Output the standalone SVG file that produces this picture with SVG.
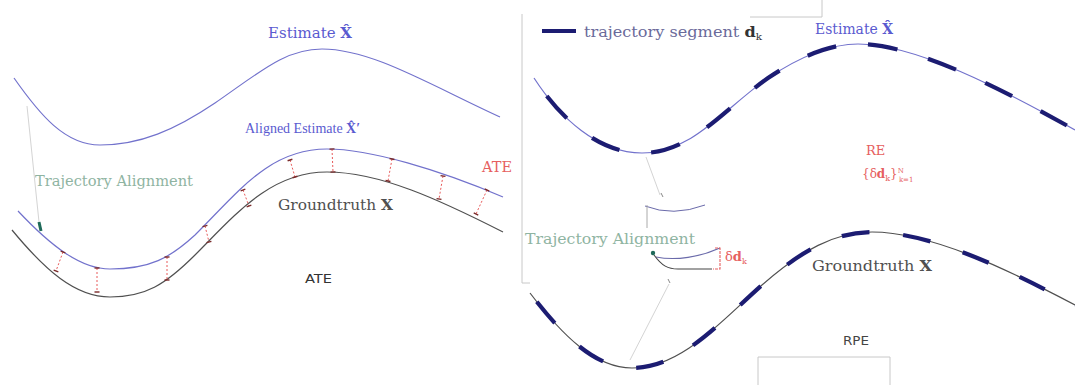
<svg xmlns="http://www.w3.org/2000/svg" width="1075" height="385" viewBox="0 0 1075 385">
<defs>
<style>
.est{fill:none;stroke:#7272cc;stroke-width:1.2}
.gt{fill:none;stroke:#505050;stroke-width:1.2}
.seg{fill:none;stroke:#1c1c72;stroke-width:4.2}
.err{stroke:#e85a5a;stroke-width:1;stroke-dasharray:2 2;fill:none}
.frame{stroke:#c8c8c8;stroke-width:1;fill:none}
.faint{stroke:#d4d4d4;stroke-width:1;fill:none}
.serif{font-family:"DejaVu Serif","Liberation Serif",serif}
.sans{font-family:"DejaVu Sans","Liberation Sans",sans-serif}
.blue{fill:#5a5ad0}
.teal{fill:#8fb4a2}
.red{fill:#e66060}
.dark{fill:#505050}
</style>
<marker id="tick" viewBox="-3 -3 6 6" markerWidth="6" markerHeight="6" refX="0" refY="0" orient="auto" markerUnits="userSpaceOnUse">
<path d="M0,-2.5 L0,2.5" stroke="#7a2a2a" stroke-width="1.4"/>
</marker>
</defs>

<g id="frames">
<path class="frame" d="M522,14 L522,283 L530,283"/>
<path class="frame" d="M750,17 L822,17 L822,0"/>
<path class="frame" d="M758,385 L758,357 L890,357 L890,385"/>
</g>

<g id="ate-panel">
<g id="ate-estimate">
<path class="est" d="M14,78 C40,115 65,145 100,145 C140,145 175,130 215,103 C260,72 285,49 322,49 C372,49 430,85 500,117"/>
<text class="serif blue" x="268" y="38" font-size="14" textLength="84" lengthAdjust="spacingAndGlyphs">Estimate <tspan font-weight="bold">X̂</tspan></text>
</g>
<g id="ate-aligned">
<path class="est" d="M18,211 C50,245 80,269 110,269 C150,269 170,258 195,235 C240,190 270,149 327,149 C370,149 440,170 503,197"/>
<text x="245" y="133" font-size="14" font-family="'Liberation Serif', serif" fill="#5a5ad0">Aligned Estimate <tspan font-weight="bold">X̂′</tspan></text>
</g>
<g id="ate-groundtruth">
<path class="gt" d="M12,230 C45,270 75,297 110,297 C145,297 165,285 195,255 C235,215 270,172 327,172 C380,172 440,200 503,232"/>
<text class="serif dark" x="278" y="210" font-size="14" textLength="115" lengthAdjust="spacingAndGlyphs">Groundtruth <tspan font-weight="bold">X</tspan></text>
</g>
<g id="ate-alignment-label">
<text class="serif teal" x="35" y="186" font-size="15" textLength="158" lengthAdjust="spacingAndGlyphs">Trajectory Alignment</text>
</g>
<g id="ate-error-label">
<text class="serif red" x="482" y="172" font-size="14" textLength="30" lengthAdjust="spacingAndGlyphs">ATE</text>
</g>
<g id="ate-title">
<text class="sans" x="305" y="283" font-size="12" fill="#333" textLength="27" lengthAdjust="spacingAndGlyphs">ATE</text>
</g>
</g>

<g id="rpe-panel">
<g id="legend">
<path d="M542,31 L576,31" stroke="#1c1c72" stroke-width="4"/>
<text class="serif" x="584" y="37" font-size="14" fill="#6a6a9a" textLength="178" lengthAdjust="spacingAndGlyphs">trajectory segment <tspan font-weight="bold" fill="#333">d</tspan><tspan font-size="9" dy="3" fill="#333">k</tspan></text>
</g>
<g id="rpe-estimate">
<path class="est" d="M534,78 C560,118 598,153 642,153 C692,153 725,108 768,78 C798,58 828,44 858,44 C915,44 1000,88 1075,130"/>
<path class="seg" stroke-dasharray="30 32" stroke-dashoffset="40" d="M534,78 C560,118 598,153 642,153 C692,153 725,108 768,78 C798,58 828,44 858,44 C915,44 1000,88 1075,130"/>
<text class="serif blue" x="815" y="34" font-size="14" textLength="78" lengthAdjust="spacingAndGlyphs">Estimate <tspan font-weight="bold">X̂</tspan></text>
</g>
<g id="rpe-groundtruth">
<path class="gt" d="M530,293 C562,335 595,368 632,368 C682,368 722,320 762,285 C802,250 835,232 872,232 C930,232 1005,268 1075,305"/>
<path class="seg" stroke-dasharray="28 34" stroke-dashoffset="51" d="M530,293 C562,335 595,368 632,368 C682,368 722,320 762,285 C802,250 835,232 872,232 C930,232 1005,268 1075,305"/>
<text class="serif dark" x="812" y="271" font-size="14" textLength="120" lengthAdjust="spacingAndGlyphs">Groundtruth <tspan font-weight="bold">X</tspan></text>
</g>
<g id="rpe-error-label">
<text class="serif red" x="866" y="155" font-size="13">RE</text>
<text class="serif red" x="862" y="178" font-size="12">{δ<tspan font-weight="bold">d</tspan><tspan font-size="8" dy="3">k</tspan><tspan dy="-3">}</tspan><tspan font-size="7" dy="-5">N</tspan><tspan font-size="7" dx="-5" dy="9">k=1</tspan></text>
</g>
<g id="rpe-alignment-label">
<text class="serif teal" x="525" y="244" font-size="15" textLength="170" lengthAdjust="spacingAndGlyphs">Trajectory Alignment</text>
</g>
<g id="rpe-sketch">
<path class="faint" d="M646,157 L660,195"/>
<path d="M645,206 Q673,217 705,205" fill="none" stroke="#6a6aaa" stroke-width="1"/>
<path d="M647,205 L647,228" fill="none" stroke="#aaa" stroke-width="1"/>
<path d="M661,193 L663,197" stroke="#888" stroke-width="1"/>
<path d="M656,257 C676,261 700,257 720,248" fill="none" stroke="#6a6aaa" stroke-width="1.1"/>
<path d="M654,255 C662,266 668,269 678,269 L712,269" fill="none" stroke="#444" stroke-width="1.1"/>
<circle cx="653" cy="253" r="2.2" fill="#1f6a5a"/>
<path d="M715,248 L720,248 L720,269 L713,269" fill="none" stroke="#e66060" stroke-width="1.1" stroke-dasharray="3 1"/>
<text class="serif red" x="725" y="261" font-size="13">δ<tspan font-weight="bold">d</tspan><tspan font-size="8" dy="3">k</tspan></text>
<path d="M668,279 L670,283" stroke="#888" stroke-width="1"/>
<path class="faint" d="M669,284 L630,360"/>
</g>
<g id="rpe-title">
<text class="sans" x="843" y="345" font-size="12" fill="#444" textLength="26" lengthAdjust="spacingAndGlyphs">RPE</text>
</g>
</g>

<g id="connectors">
<path class="faint" d="M27,106 L39,222" stroke="#b8c4be"/>
<path d="M39,222 L41,231" stroke="#1f6a5a" stroke-width="3"/>
<g marker-start="url(#tick)" marker-end="url(#tick)">
<path class="err" d="M63,252 L56,271"/>
<path class="err" d="M97,268 L97,292"/>
<path class="err" d="M167,257 L167,280"/>
<path class="err" d="M205,226 L209,242"/>
<path class="err" d="M243,190 L249,206"/>
<path class="err" d="M290,160 L295,177"/>
<path class="err" d="M332,149 L333,172"/>
<path class="err" d="M392,159 L388,181"/>
<path class="err" d="M443,176 L439,199"/>
<path class="err" d="M487,190 L476,214"/>
</g>
</g>
</svg>
